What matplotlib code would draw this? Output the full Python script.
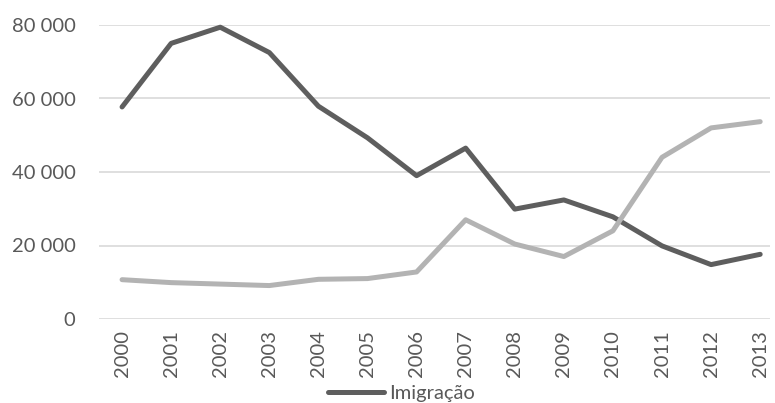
import matplotlib.pyplot as plt

plt.rcParams['font.family'] = ['Lato', 'DejaVu Sans']

# Data
years = ['2000', '2001', '2002', '2003', '2004', '2005', '2006',
         '2007', '2008', '2009', '2010', '2011', '2012', '2013']
imigracao = [57700, 75000, 79400, 72500, 57900, 49300, 39000,
             46500, 29900, 32400, 27800, 19900, 14800, 17600]
emigracao = [10700, 9900, 9500, 9100, 10800, 11000, 12800,
             27000, 20400, 17000, 24000, 44000, 52000, 53700]
y_ticks = [0, 20000, 40000, 60000, 80000]
y_labels = ['0', '20 000', '40 000', '60 000', '80 000']

fig = plt.figure(figsize=(7.75, 4.03), dpi=100)
ax = fig.add_axes([99 / 775, 84 / 403, 671 / 775, 294 / 403])

x = range(len(years))
dark, = ax.plot(x, imigracao, color='#5e5e5e', lw=3.6, solid_capstyle='round',
                solid_joinstyle='round', clip_on=False, zorder=3, label='Imigração')
ax.plot(x, emigracao, color='#b3b3b3', lw=3.6, solid_capstyle='round',
        solid_joinstyle='round', clip_on=False, zorder=3, label='Emigração')

ax.set_xlim(-0.47, 13.2)
ax.set_ylim(0, 80000)
ax.set_yticks(y_ticks)
ax.set_yticklabels(y_labels)
ax.set_xticks(list(x))
ax.set_xticklabels(years, rotation=90)
ax.grid(axis='y', color='#d9d9d9', lw=1.2)
ax.set_axisbelow(True)
for s in ax.spines.values():
    s.set_visible(False)
ax.tick_params(length=0, labelsize=14.5, labelcolor='#595959')
ax.tick_params(axis='y', pad=17)
ax.tick_params(axis='x', pad=8)

fig.legend(handles=[dark], labels=['Imigração'], loc='upper center',
           bbox_to_anchor=(0.518, 0.045), frameon=False, fontsize=14.5,
           labelcolor='#595959', handlelength=2.8, handletextpad=0.25,
           borderpad=0, borderaxespad=0)

fig.savefig('out.png', dpi=100)
